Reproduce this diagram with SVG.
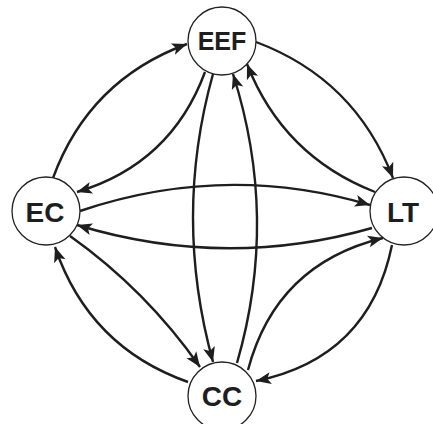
<svg xmlns="http://www.w3.org/2000/svg" width="433" height="424" viewBox="0 0 433 424">
<style>
.edge{fill:none;stroke:#1e1e1e;stroke-width:2.4;marker-end:url(#arr)}
.node circle{fill:#fff;stroke:#222;stroke-width:1.3}
.node text{font-family:"Liberation Sans",Arial,sans-serif;font-weight:bold;fill:#1e1e1e;text-anchor:middle}
</style>
<defs>
<marker id="arr" markerUnits="userSpaceOnUse" markerWidth="16" markerHeight="12" refX="15" refY="6" orient="auto" overflow="visible">
<path d="M0,0 L15,6 L0,12 L3.5,6 Z" fill="#1e1e1e"/>
</marker>
</defs>
<rect width="433" height="424" fill="#fff"/>
<g id="connectors">
<path class="edge" d="M53,178 Q89,80 187,44"/>
<path class="edge" d="M205,72 Q171,164 77,192"/>
<path class="edge" d="M256,42 Q355,79 393,178"/>
<path class="edge" d="M375,192 Q283,156 247,64"/>
<path class="edge" d="M80,211 Q225,162 370,205"/>
<path class="edge" d="M372,228 Q225,270 77,225"/>
<path class="edge" d="M213,74 Q173,217 213,362"/>
<path class="edge" d="M237,363 Q279,218 233,74"/>
<path class="edge" d="M70,236 Q146,290 200,367"/>
<path class="edge" d="M188,382 Q89,347 55,247"/>
<path class="edge" d="M392,245 Q369,358 256,381"/>
<path class="edge" d="M248,370 Q276,264 383,238"/>
</g>
<g id="EEF" class="node"><circle cx="222" cy="41" r="34"/><text x="222" y="50" font-size="25">EEF</text></g>
<g id="EC" class="node"><circle cx="46" cy="211" r="34"/><text x="45" y="222" font-size="28">EC</text></g>
<g id="LT" class="node"><circle cx="404" cy="211" r="34"/><text x="403" y="222" font-size="28">LT</text></g>
<g id="CC" class="node"><circle cx="222" cy="396" r="34"/><text x="222" y="406" font-size="28">CC</text></g>
</svg>
